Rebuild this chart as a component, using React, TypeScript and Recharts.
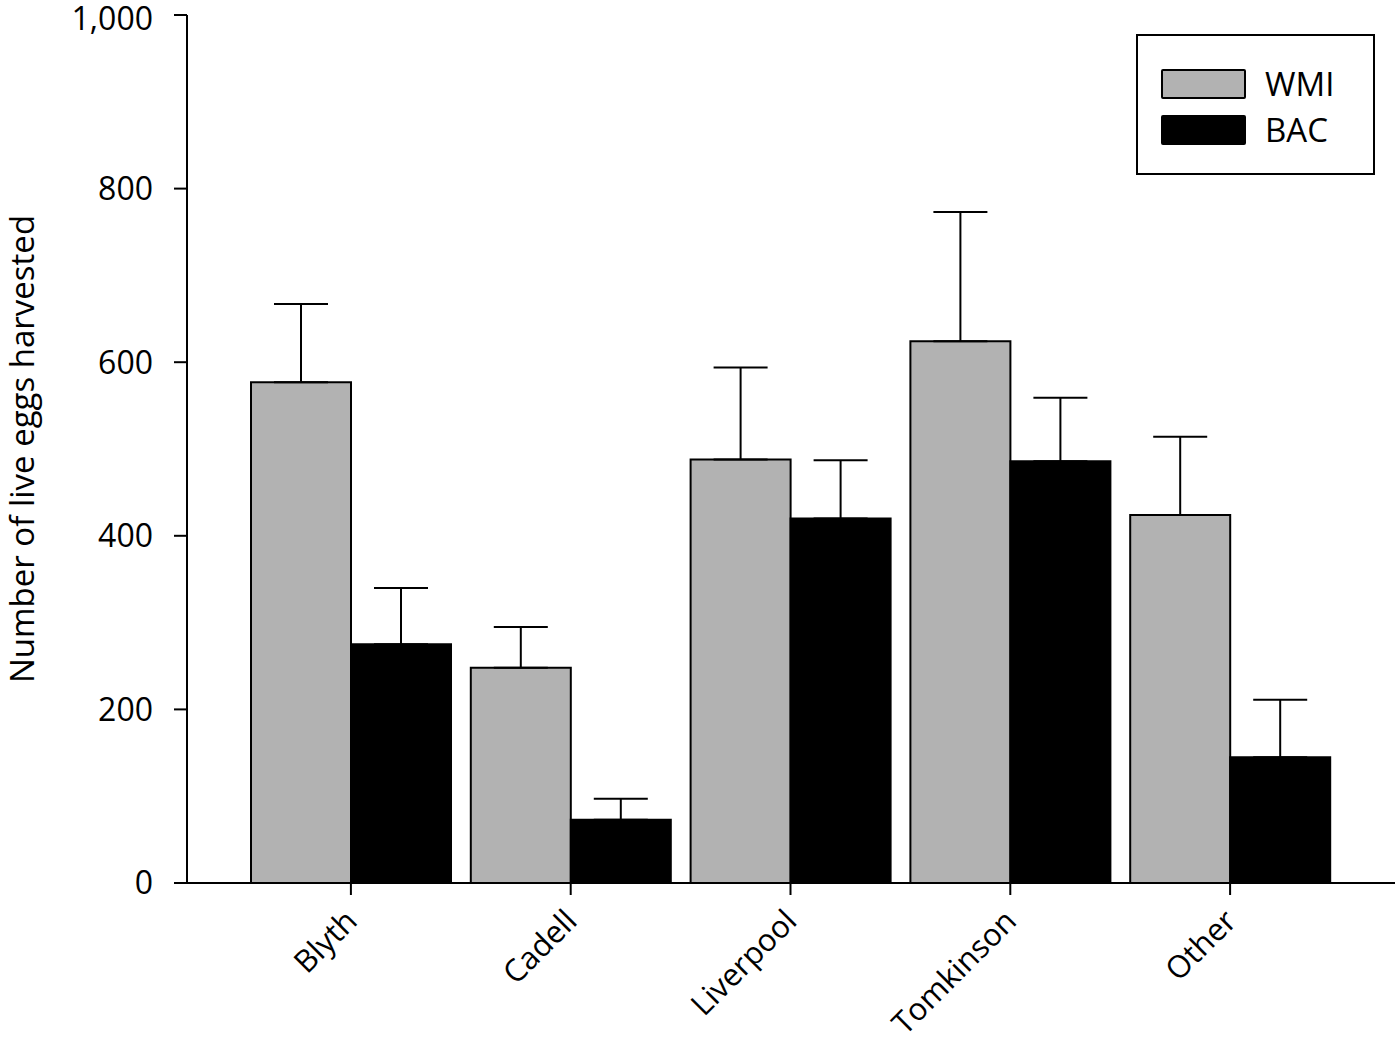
import React from 'react';
import { BarChart, Bar, XAxis, YAxis, ErrorBar, Legend } from 'recharts';

const categories = ['Blyth', 'Cadell', 'Liverpool', 'Tomkinson', 'Other'];
const wmiValues = [577, 248, 488, 624, 424];
const wmiErrors = [90, 47, 106, 149, 90];
const bacValues = [275, 73, 420, 486, 145];
const bacErrors = [65, 24, 67, 73, 66];
const yTicks = [0, 200, 400, 600, 800, 1000];

const data = categories.map((c, i) => ({
  name: c,
  WMI: wmiValues[i],
  wmiErr: [0, wmiErrors[i]],
  BAC: bacValues[i],
  bacErr: [0, bacErrors[i]],
}));

const FONT = '"Open Sans", sans-serif';

const XTick = (props: any) => {
  const { x, y, payload } = props;
  const tx = x + 8;
  const ty = y + 28;
  return (
    <text
      x={tx}
      y={ty}
      transform={`rotate(-45, ${tx}, ${ty})`}
      textAnchor="end"
      fontFamily={FONT}
      fontSize={31}
      fill="#000"
    >
      {payload.value}
    </text>
  );
};

const LegendBox = () => {
  const items = [
    { label: 'WMI', color: '#b2b2b2' },
    { label: 'BAC', color: '#000000' },
  ];
  return (
    <div
      style={{
        width: 239,
        height: 141,
        border: '2px solid #000',
        boxSizing: 'border-box',
        background: '#fff',
        position: 'relative',
        fontFamily: FONT,
      }}
    >
      {items.map((it, i) => (
        <div key={it.label} style={{ position: 'absolute', left: 23, top: 32 + i * 46, height: 31, display: 'flex', alignItems: 'center' }}>
          <div style={{ width: 85, height: 30, background: it.color, border: '2px solid #000', boxSizing: 'border-box', borderRadius: 2 }} />
          <span style={{ marginLeft: 19, fontSize: 33, lineHeight: '31px', color: '#000' }}>{it.label}</span>
        </div>
      ))}
    </div>
  );
};

export default function App() {
  return (
    <div style={{ position: 'absolute', left: 0, top: 0, width: 1400, height: 1039, background: '#fff' }}>
      <BarChart
        width={1400}
        height={1039}
        data={data}
        margin={{ top: 15, right: 5, bottom: 0, left: 0 }}
        barCategoryGap={10}
        barGap={0}
      >
        <XAxis
          dataKey="name"
          height={156}
          padding={{ left: 54, right: 55 }}
          axisLine={{ stroke: '#000', strokeWidth: 2 }}
          tickLine={{ stroke: '#000', strokeWidth: 2 }}
          tickSize={12}
          tickMargin={0}
          tick={<XTick />}
          interval={0}
        />
        <XAxis xAxisId="top" orientation="top" dataKey="name" height={0} tick={false} tickLine={false} axisLine={{ stroke: '#000', strokeWidth: 2 }} />
        <YAxis
          domain={[0, 1000]}
          ticks={yTicks}
          width={187}
          allowDataOverflow
          axisLine={{ stroke: '#000', strokeWidth: 2 }}
          tickLine={{ stroke: '#000', strokeWidth: 2 }}
          tickSize={13}
          tickMargin={21}
          tickFormatter={(v: number) => v.toLocaleString('en-US')}
          tick={{ fill: '#000', fontSize: 32, fontFamily: FONT }}
          label={{ value: 'Number of live eggs harvested', angle: -90, position: 'center', dx: -71, style: { fill: '#000', fontSize: 33, fontFamily: FONT } }}
        />
        <YAxis yAxisId="right" orientation="right" width={0} tick={false} tickLine={false} axisLine={{ stroke: '#000', strokeWidth: 2 }} />
        <Legend
          layout="horizontal"
          verticalAlign="middle"
          align="center"
          content={<LegendBox />}
          wrapperStyle={{ position: 'absolute', left: 1136, top: 34, width: 239, height: 141 }}
        />
        <Bar dataKey="WMI" fill="#b2b2b2" stroke="#000" strokeWidth={2} isAnimationActive={false}>
          <ErrorBar dataKey="wmiErr" direction="y" width={27} stroke="#000" strokeWidth={2} isAnimationActive={false} />
        </Bar>
        <Bar dataKey="BAC" fill="#000" stroke="#000" strokeWidth={2} isAnimationActive={false}>
          <ErrorBar dataKey="bacErr" direction="y" width={27} stroke="#000" strokeWidth={2} isAnimationActive={false} />
        </Bar>
      </BarChart>
    </div>
  );
}
